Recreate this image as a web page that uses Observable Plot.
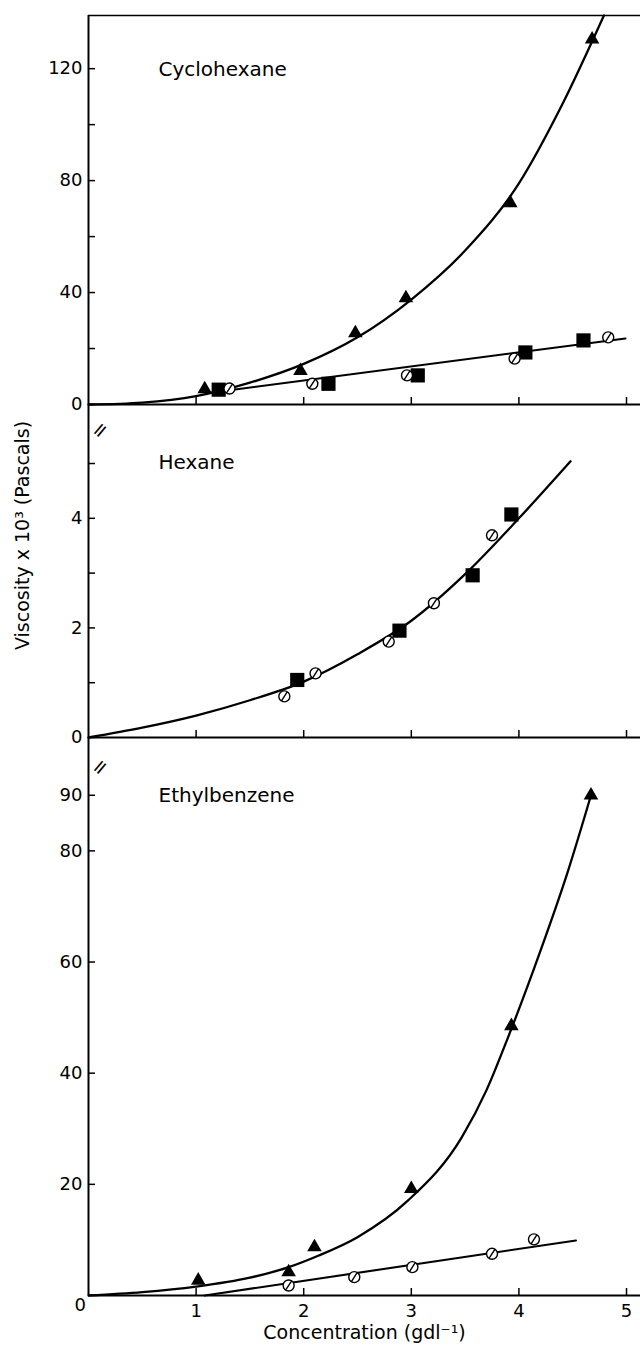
<!DOCTYPE html>
<html><head><meta charset="utf-8">
<script src="https://cdn.jsdelivr.net/npm/d3@7"></script>
<script src="https://cdn.jsdelivr.net/npm/@observablehq/plot@0.6"></script>
<style>
body{margin:0;background:#fff;}
#chart{width:640px;}
#chart svg{display:block;overflow:visible;}
</style></head><body><div id="chart"></div>
<script>
// ---------- data ----------
const panelNames = ["Cyclohexane", "Hexane", "Ethylbenzene"];
const xTicks = [1, 2, 3, 4, 5];
const xLabel = "Concentration (gdl\u207B\u00B9)";
const yLabel = "Viscosity x 10\u00B3 (Pascals)";

// Cyclohexane
const cycloYTicks = [0, 20, 40, 60, 80, 100, 120];
const cycloYLabels = [0, 40, 80, 120];
const cycloTriX = [1.08, 1.97, 2.48, 2.95, 3.92, 4.68];
const cycloTriY = [5.5, 12, 25.5, 38, 72, 130.5];
const cycloSqX = [1.21, 2.23, 3.06, 4.06, 4.6];
const cycloSqY = [5.3, 7.4, 10.4, 18.6, 22.9];
const cycloCircX = [1.31, 2.08, 2.96, 3.96, 4.83];
const cycloCircY = [5.7, 7.4, 10.4, 16.4, 24];
const cycloCurveX = [0, 0.5, 1, 1.5, 2, 2.5, 3, 3.5, 4, 4.4, 4.79];
const cycloCurveY = [0, 0.7, 3, 7.8, 14.5, 24, 37.5, 55, 79, 107, 139];
const cycloLineX = [1.15, 4.99];
const cycloLineY = [4.3, 23.6];

// Hexane
const hexYTicks = [0, 1, 2, 3, 4, 5];
const hexYLabels = [0, 2, 4];
const hexSqX = [1.94, 2.89, 3.57, 3.93];
const hexSqY = [1.05, 1.95, 2.96, 4.07];
const hexCircX = [1.82, 2.11, 2.79, 3.21, 3.75];
const hexCircY = [0.75, 1.17, 1.75, 2.45, 3.69];
const hexCurveX = [0, 0.5, 1, 1.5, 2, 2.5, 3, 3.5, 4, 4.48];
const hexCurveY = [0, 0.18, 0.4, 0.68, 1.02, 1.52, 2.13, 2.98, 4.0, 5.04];

// Ethylbenzene
const ethYTicks = [20, 40, 60, 80, 90];
const ethYLabels = [20, 40, 60, 80, 90];
const ethTriX = [1.02, 1.86, 2.10, 3.0, 3.93, 4.67];
const ethTriY = [2.7, 4.2, 8.7, 19.2, 48.5, 90];
const ethCircX = [1.86, 2.47, 3.01, 3.75, 4.14];
const ethCircY = [1.8, 3.3, 5.1, 7.5, 10.1];
const ethCurveX = [0, 0.5, 1, 1.5, 1.86, 2.14, 2.5, 2.97, 3.47, 3.7, 3.9, 4.2, 4.45, 4.67];
const ethCurveY = [0, 0.6, 1.6, 3.2, 5.1, 7.2, 10.5, 17.1, 28.5, 37, 46.5, 62, 76, 90];
const ethLineX = [1.08, 4.53];
const ethLineY = [0, 9.9];

// ---------- drawing ----------
const W = 640, ML = 88, XMAX = 5.13;
const pts = (xs, ys) => xs.map((x, i) => ({x, y: ys[i]}));
const slashCircle = {
  draw(ctx, size) {
    const r = Math.sqrt(size / Math.PI);
    ctx.moveTo(r, 0);
    ctx.arc(0, 0, r, 0, 2 * Math.PI);
    ctx.moveTo(-r * 0.55, r * 0.85);
    ctx.lineTo(r * 0.55, -r * 0.85);
  }
};
const FONT = "DejaVu Sans";
const intFmt = d => String(d);

function makePanel(c) {
  const plotH = c.height - c.mt - c.mb;
  const perY = c.yMax / plotH;
  const perX = XMAX / (W - ML);
  const tick = 7;
  const marks = [];
  marks.push(Plot.ruleX([0], {
    y1: c.frameTop ? c.yMax : c.yMax + c.mt * perY,
    y2: c.axisToBottom ? -c.mb * perY : 0,
    strokeWidth: 2
  }));
  if (c.frameTop) marks.push(Plot.ruleY([c.yMax], {strokeWidth: 1.6}));
  if (c.breakTop) marks.push(Plot.text(["="], {frameAnchor: "top-left", dy: -c.mt + 1, rotate: -50, fontSize: 20, text: d => d}));
  marks.push(Plot.ruleY([0], {strokeWidth: 2}));
  marks.push(Plot.ruleX(xTicks, {y1: 0, y2: tick * perY, strokeWidth: 1.5}));
  marks.push(Plot.ruleY(c.yTicks, {x1: 0, x2: tick * perX, strokeWidth: 1.5}));
  marks.push(Plot.axisY({ticks: c.yLabels, tickSize: 0, tickPadding: 6, fontSize: 18, label: null, tickFormat: intFmt}));
  for (const cv of c.curves) marks.push(Plot.line(cv, {x: "x", y: "y", curve: "monotone-x", strokeWidth: 2.3}));
  for (const ln of c.lines) marks.push(Plot.line(ln, {x: "x", y: "y", strokeWidth: 2.1}));
  if (c.sq) marks.push(Plot.dot(c.sq, {x: "x", y: "y", symbol: "square", r: 8, fill: "black"}));
  if (c.circ) marks.push(Plot.dot(c.circ, {x: "x", y: "y", symbol: slashCircle, r: 5.5, fill: "white", stroke: "black", strokeWidth: 1.4}));
  if (c.tri) marks.push(Plot.dot(c.tri, {x: "x", y: "y", symbol: "triangle", r: 5.4, fill: "black"}));
  marks.push(Plot.text([c.title], {frameAnchor: "top-left", dx: 70, dy: c.titleDy, textAnchor: "start", lineAnchor: "middle", fontSize: 20, text: d => d}));
  if (c.extra) marks.push(...c.extra);
  return Plot.plot({
    width: W, height: c.height,
    marginLeft: ML, marginRight: 0, marginTop: c.mt, marginBottom: c.mb,
    x: {domain: [0, XMAX], ...(c.xAxis ? {} : {axis: null})},
    y: {domain: [0, c.yMax]},
    style: {fontFamily: FONT, fontSize: "18px", background: "transparent", overflow: "visible", color: "black"},
    marks
  });
}

const chart = document.getElementById("chart");

chart.append(makePanel({
  height: 430, mt: 15, mb: 26, yMax: 139, frameTop: true, axisToBottom: true,
  yTicks: cycloYTicks, yLabels: cycloYLabels, title: panelNames[0], titleDy: 54,
  curves: [pts(cycloCurveX, cycloCurveY)], lines: [pts(cycloLineX, cycloLineY)],
  tri: pts(cycloTriX, cycloTriY), sq: pts(cycloSqX, cycloSqY), circ: pts(cycloCircX, cycloCircY)
}));

chart.append(makePanel({
  height: 337, mt: 10, mb: 30, yMax: 5.42, breakTop: true, axisToBottom: true,
  yTicks: hexYTicks, yLabels: hexYLabels, title: panelNames[1], titleDy: 22,
  curves: [pts(hexCurveX, hexCurveY)], lines: [],
  sq: pts(hexSqX, hexSqY), circ: pts(hexCircX, hexCircY),
  extra: [Plot.text([yLabel], {frameAnchor: "left", rotate: -90, dx: -66, dy: 61, fontSize: 19, text: d => d})]
}));

chart.append(makePanel({
  height: 583, mt: 10, mb: 55, yMax: 93.2, breakTop: true, axisToBottom: false, xAxis: true,
  yTicks: ethYTicks, yLabels: ethYLabels, title: panelNames[2], titleDy: 18,
  curves: [pts(ethCurveX, ethCurveY)], lines: [pts(ethLineX, ethLineY)],
  tri: pts(ethTriX, ethTriY), circ: pts(ethCircX, ethCircY),
  extra: [
    Plot.axisX({ticks: xTicks, tickSize: 0, tickPadding: 9, fontSize: 18, label: null, tickFormat: intFmt}),
    Plot.text(["0"], {frameAnchor: "bottom-left", dx: -14, dy: 15, fontSize: 18, text: d => d}),
    Plot.text([xLabel], {frameAnchor: "bottom", dy: 43, fontSize: 19, text: d => d})
  ]
}));
</script></body></html>
